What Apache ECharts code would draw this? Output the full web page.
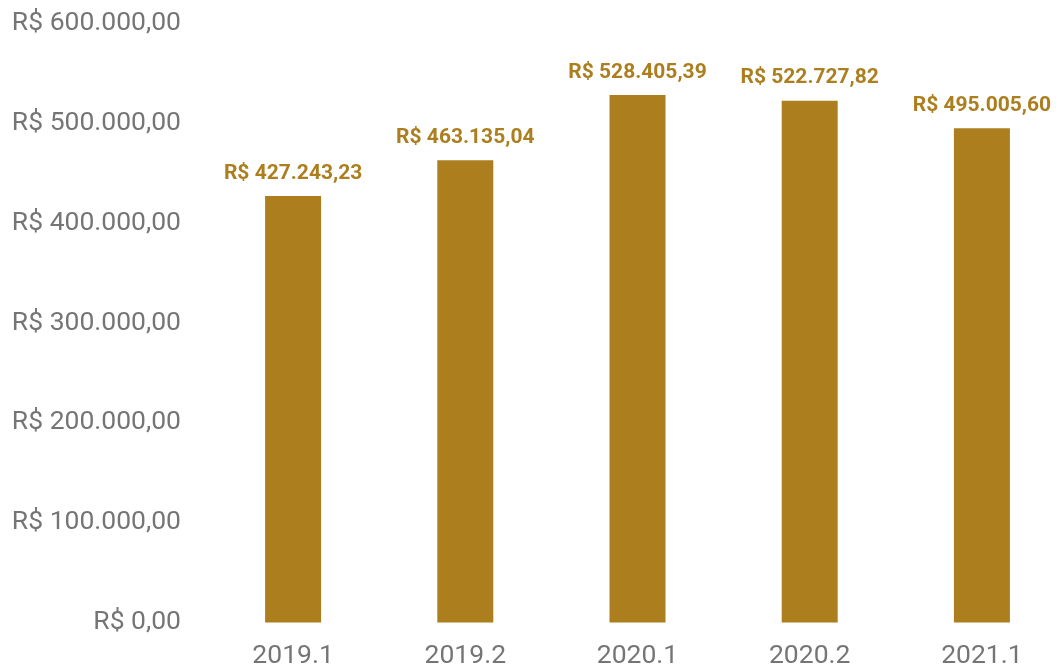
<!DOCTYPE html>
<html>
<head>
<meta charset="utf-8">
<script src="https://cdn.jsdelivr.net/npm/echarts@6/dist/echarts.min.js"></script>
<style>
  html, body { margin: 0; padding: 0; background: #ffffff; }
  #chart { width: 1056px; height: 668px; }
</style>
</head>
<body>
<div id="chart"></div>
<script>
// Semesters and total amounts (R$)
const semesters = ['2019.1', '2019.2', '2020.1', '2020.2', '2021.1'];
const amounts = [427243.23, 463135.04, 528405.39, 522727.82, 495005.60];
const yTicks = [0, 100000, 200000, 300000, 400000, 500000, 600000];

function brl(v) {
  const parts = v.toFixed(2).split('.');
  const intPart = parts[0].replace(/\B(?=(\d{3})+(?!\d))/g, '.');
  return 'R$ ' + intPart + ',' + parts[1];
}

const chart = echarts.init(document.getElementById('chart'), null, { renderer: 'canvas' });
chart.setOption({
  animation: false,
  backgroundColor: '#ffffff',
  textStyle: { fontFamily: 'Roboto' },
  grid: {
    left: 207, top: 23.5, right: -12, bottom: 45.5,
    containLabel: false,
    outerBoundsMode: 'none'
  },
  xAxis: {
    type: 'category',
    data: semesters,
    axisLine: { show: false },
    axisTick: { show: false },
    axisLabel: { color: '#757575', fontSize: 26.5, fontFamily: 'Roboto', margin: 20 }
  },
  yAxis: {
    type: 'value',
    min: yTicks[0],
    max: yTicks[yTicks.length - 1],
    interval: 100000,
    splitLine: { show: false },
    axisLine: { show: false },
    axisTick: { show: false },
    axisLabel: {
      color: '#757575', fontSize: 26.5, fontFamily: 'Roboto', margin: 26,
      formatter: v => brl(v)
    }
  },
  series: [{
    type: 'bar',
    data: amounts,
    barWidth: 56,
    itemStyle: { color: '#AC7E1E' },
    label: {
      show: true,
      position: 'top',
      distance: 12,
      color: '#AC7E1E',
      fontSize: 21,
      fontWeight: 'bold',
      fontFamily: 'Roboto',
      formatter: p => brl(p.value)
    }
  }]
});
</script>
</body>
</html>
